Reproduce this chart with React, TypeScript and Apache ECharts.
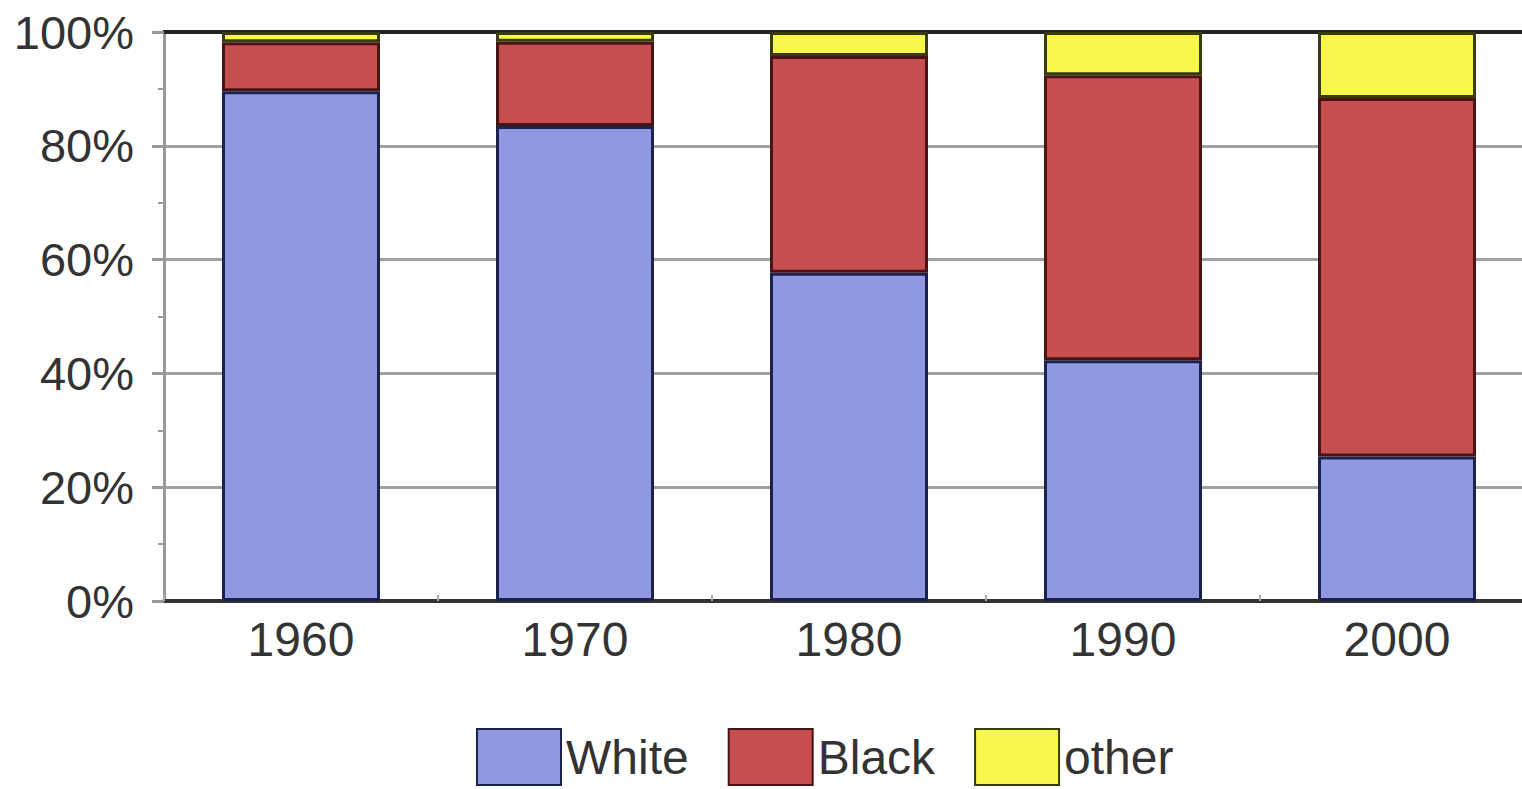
import React, { useEffect, useRef } from "react";
import * as echarts from "echarts";

const categories = ["1960", "1970", "1980", "1990", "2000"];
const whiteShare = [89.6, 83.5, 57.7, 42.3, 25.4];
const blackShare = [8.6, 14.8, 38.1, 50.1, 63.0];
const otherShare = [1.8, 1.7, 4.2, 7.6, 11.6];
const seriesNames = ["White", "Black", "other"];

export default function App() {
  const ref = useRef<HTMLDivElement>(null);
  useEffect(() => {
    if (!ref.current) return;
    document.body.style.overflow = "hidden";
    const chart = echarts.init(ref.current, null, { renderer: "svg" });
    const font = "'Liberation Sans', Arial, sans-serif";
    const mk = (name: string, data: number[], color: string, border: string) => ({
      name,
      type: "bar",
      stack: "total",
      data,
      barWidth: 158,
      itemStyle: { color, borderColor: border, borderWidth: 3 },
    });
    chart.setOption({
      animation: false,
      backgroundColor: "#ffffff",
      grid: { left: 164, top: 32, width: 1370, height: 569, containLabel: false },
      xAxis: [
        {
          type: "category",
          data: categories,
          position: "bottom",
          axisLine: { show: true, lineStyle: { color: "#333", width: 4 } },
          axisTick: { show: true, alignWithLabel: false, length: 6, inside: true, lineStyle: { color: "#aaa", width: 2 } },
          axisLabel: { color: "#333", fontSize: 48, fontFamily: font, margin: 14 },
        },
        {
          type: "category",
          data: categories,
          position: "top",
          axisLine: { show: true, lineStyle: { color: "#222", width: 4 } },
          axisTick: { show: false },
          axisLabel: { show: false },
        },
      ],
      yAxis: {
        type: "value",
        min: 0,
        max: 100,
        interval: 20,
        axisLine: { show: true, lineStyle: { color: "#999", width: 3 } },
        axisTick: { show: true, length: 12, lineStyle: { color: "#999", width: 3 } },
        minorTick: { show: true, splitNumber: 2, length: 6, lineStyle: { color: "#999", width: 2 } },
        splitLine: { show: true, lineStyle: { color: "#a0a0a0", width: 3 } },
        axisLabel: { color: "#333", fontSize: 47, fontFamily: font, margin: 30, formatter: "{value}%" },
      },
      legend: {
        left: 471,
        top: 723,
        itemWidth: 84,
        itemHeight: 56,
        itemGap: 39,
        icon: "rect",
        textStyle: { color: "#333", fontSize: 48, fontFamily: font },
        data: seriesNames,
      },
      series: [
        mk(seriesNames[0], whiteShare, "#9098e2", "#1c2250"),
        mk(seriesNames[1], blackShare, "#c64e4e", "#4a1414"),
        mk(seriesNames[2], otherShare, "#f8f84c", "#3a3a10"),
      ],
    });
    return () => chart.dispose();
  }, []);
  return (
    <div
      ref={ref}
      style={{ position: "fixed", left: 0, top: 0, width: 1540, height: 789, background: "#fff" }}
    />
  );
}
